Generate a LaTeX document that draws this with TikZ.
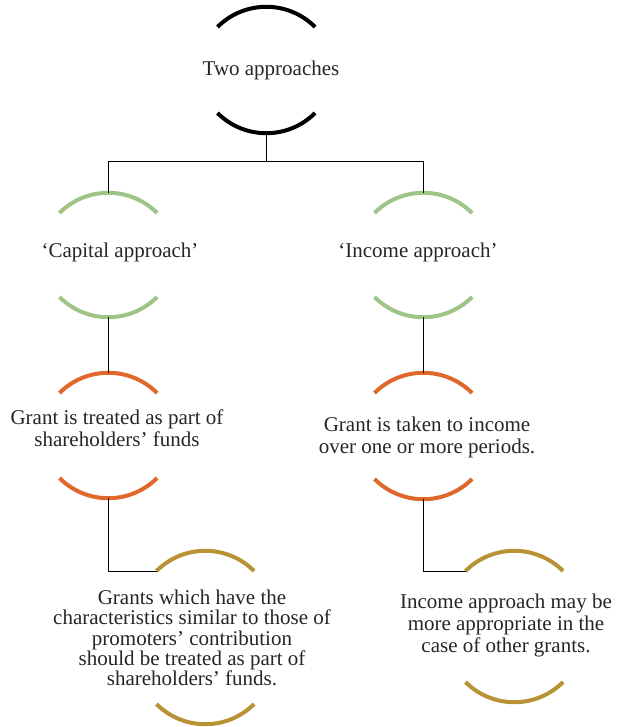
\documentclass[tikz,border=0pt]{standalone}
\usepackage{fontspec}
\setmainfont{Liberation Serif}
\definecolor{cgreen}{RGB}{158,196,134}
\definecolor{corange}{RGB}{224,104,44}
\definecolor{cgold}{RGB}{184,146,52}
\newcommand\mkarcs[5]{%
  \draw[arcline,#5] (#2-48.5,-#3-20) arc[start angle=135,end angle=45,radius=69];
  \draw[arcline,#5] (#2-48.5,-#4+20) arc[start angle=225,end angle=315,radius=69];
  \coordinate (#1t) at (#2,-#3);
  \coordinate (#1b) at (#2,-#4);
  \coordinate (#1l) at (#2-48.5,-#3-20);
}
\begin{document}
\begin{tikzpicture}[x=1pt,y=1pt,
  arcline/.style={line width=4pt},
  conn/.style={line width=1pt,black},
  txt/.style={align=center,inner sep=0pt,font=\fontsize{21}{22}\selectfont,text=black!85}]
\path[use as bounding box,fill=white] (0,0) rectangle (621,-727);
\mkarcs{A}{266}{7}{133}{black}
\mkarcs{B}{108}{193}{317}{cgreen}
\mkarcs{C}{423}{193}{317}{cgreen}
\mkarcs{D}{108}{373}{498}{corange}
\mkarcs{E}{423}{373}{499}{corange}
\mkarcs{F}{205}{551}{724}{cgold}
\mkarcs{G}{514}{551}{702}{cgold}
\node[txt] (ta) at (271,-70) {Two approaches};
\node[txt] (tb) at (120,-252) {‘Capital approach’};
\node[txt] (tc) at (418,-252) {‘Income approach’};
\node[txt] (td) at (117,-428) {Grant is treated as part of\\shareholders’ funds};
\node[txt] (te) at (427,-437) {Grant is taken to income\\over one or more periods.};
\node[txt,font=\fontsize{21}{20.3}\selectfont] (tf) at (192,-638) {Grants which have the\\characteristics similar to those of\\promoters’ contribution\\should be treated as part of\\shareholders’ funds.};
\node[txt,font=\fontsize{21}{22}\selectfont] (tg) at (506,-625) {Income approach may be\\more appropriate in the\\case of other grants.};
\coordinate (split) at (266,-162);
\draw[conn] (Ab) -- (split) -| (Bt);
\draw[conn] (split) -| (Ct);
\draw[conn] (Bb) -- (Dt);
\draw[conn] (Cb) -- (Et);
\draw[conn] (Db) |- (Fl);
\draw[conn] (Eb) |- (Gl);
\end{tikzpicture}
\end{document}
